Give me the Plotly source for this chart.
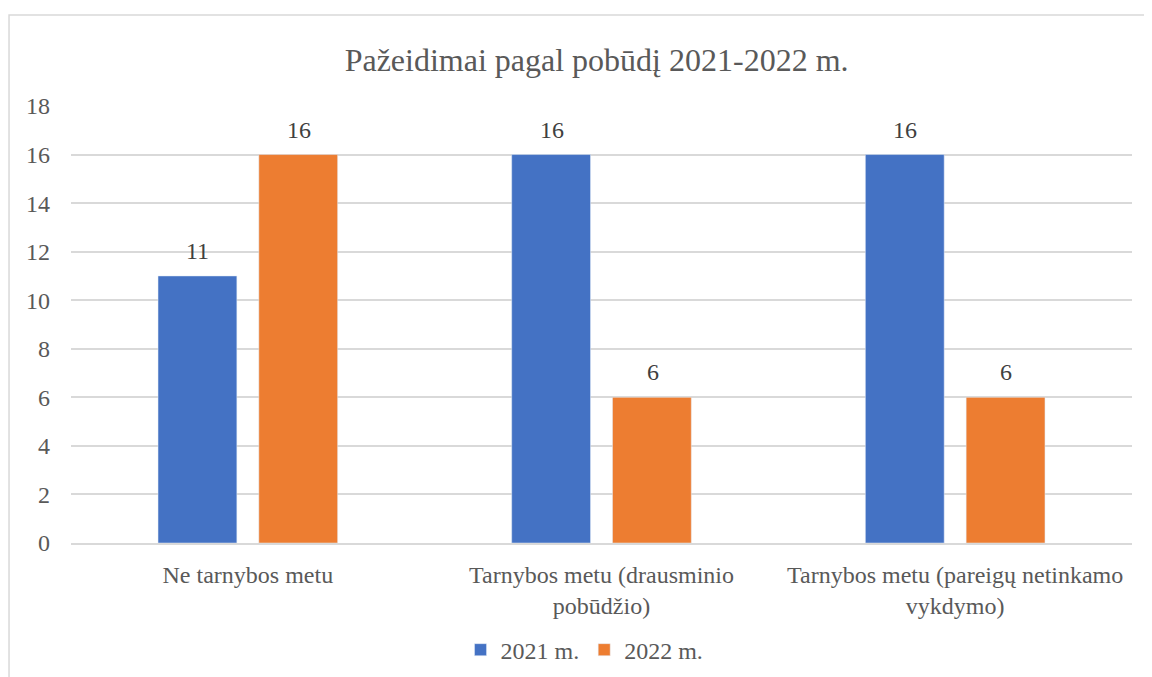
import plotly.graph_objects as go

categories = ["Ne tarnybos metu",
              "Tarnybos metu (drausminio<br>pobūdžio)",
              "Tarnybos metu (pareigų netinkamo<br>vykdymo)"]
values_2021 = [11, 16, 16]
values_2022 = [16, 6, 6]
series_names = ["2021 m.", "2022 m."]
y_ticks = [0, 2, 4, 6, 8, 10, 12, 14, 16, 18]

FONT = "Liberation Serif"
label_font = {"size": 24, "color": "#404040", "family": FONT}
tick_font = {"size": 24, "color": "#595959", "family": FONT}

fig = go.Figure()
for vals, name, color in [(values_2021, series_names[0], "#4472C4"),
                          (values_2022, series_names[1], "#ED7D31")]:
    fig.add_trace(go.Bar(x=categories, y=vals, name=name,
                         marker={"color": color}))

# data labels above the bars (shifted to each bar of the group)
for vals, shift in [(values_2021, -50), (values_2022, 51)]:
    for cat, v in zip(categories, vals):
        fig.add_annotation(x=cat, y=v, text=str(v), showarrow=False,
                           xshift=shift, yshift=25, font=label_font)

# light frame around the chart area
fig.add_shape(type="rect", xref="paper", yref="paper",
              x0=-0.0584, x1=1.2, y0=-0.4, y1=1.208,
              line={"color": "#D9D9D9", "width": 1.5}, layer="below")

fig.update_layout(
    width=1144, height=669,
    paper_bgcolor="white", plot_bgcolor="white",
    margin={"l": 63, "r": 20, "t": 98, "b": 134, "autoexpand": False},
    title={"text": "Pažeidimai pagal pobūdį 2021-2022 m.",
           "x": 0.5145, "xanchor": "center", "y": 0.922, "yanchor": "middle",
           "font": {"size": 32, "color": "#595959", "family": FONT}},
    font={"family": FONT, "color": "#595959", "size": 24},
    barmode="group", bargap=0.43, bargroupgap=0.218,
    xaxis={"tickfont": tick_font, "automargin": False,
           "showline": True, "linecolor": "#D9D9D9", "linewidth": 1.5,
           "ticks": "", "showgrid": False, "ticklabelstandoff": 9},
    yaxis={"range": [0, 18], "tickvals": y_ticks, "automargin": False,
           "tickfont": tick_font,
           "gridcolor": "#D9D9D9", "gridwidth": 1.5,
           "zeroline": False, "ticks": "", "ticklabelstandoff": 20},
    legend={"orientation": "h", "x": 0.484, "xanchor": "center",
            "y": -0.245, "yanchor": "middle",
            "font": tick_font,
            "itemwidth": 30, "traceorder": "normal"},
)

fig.write_html("out.html")
